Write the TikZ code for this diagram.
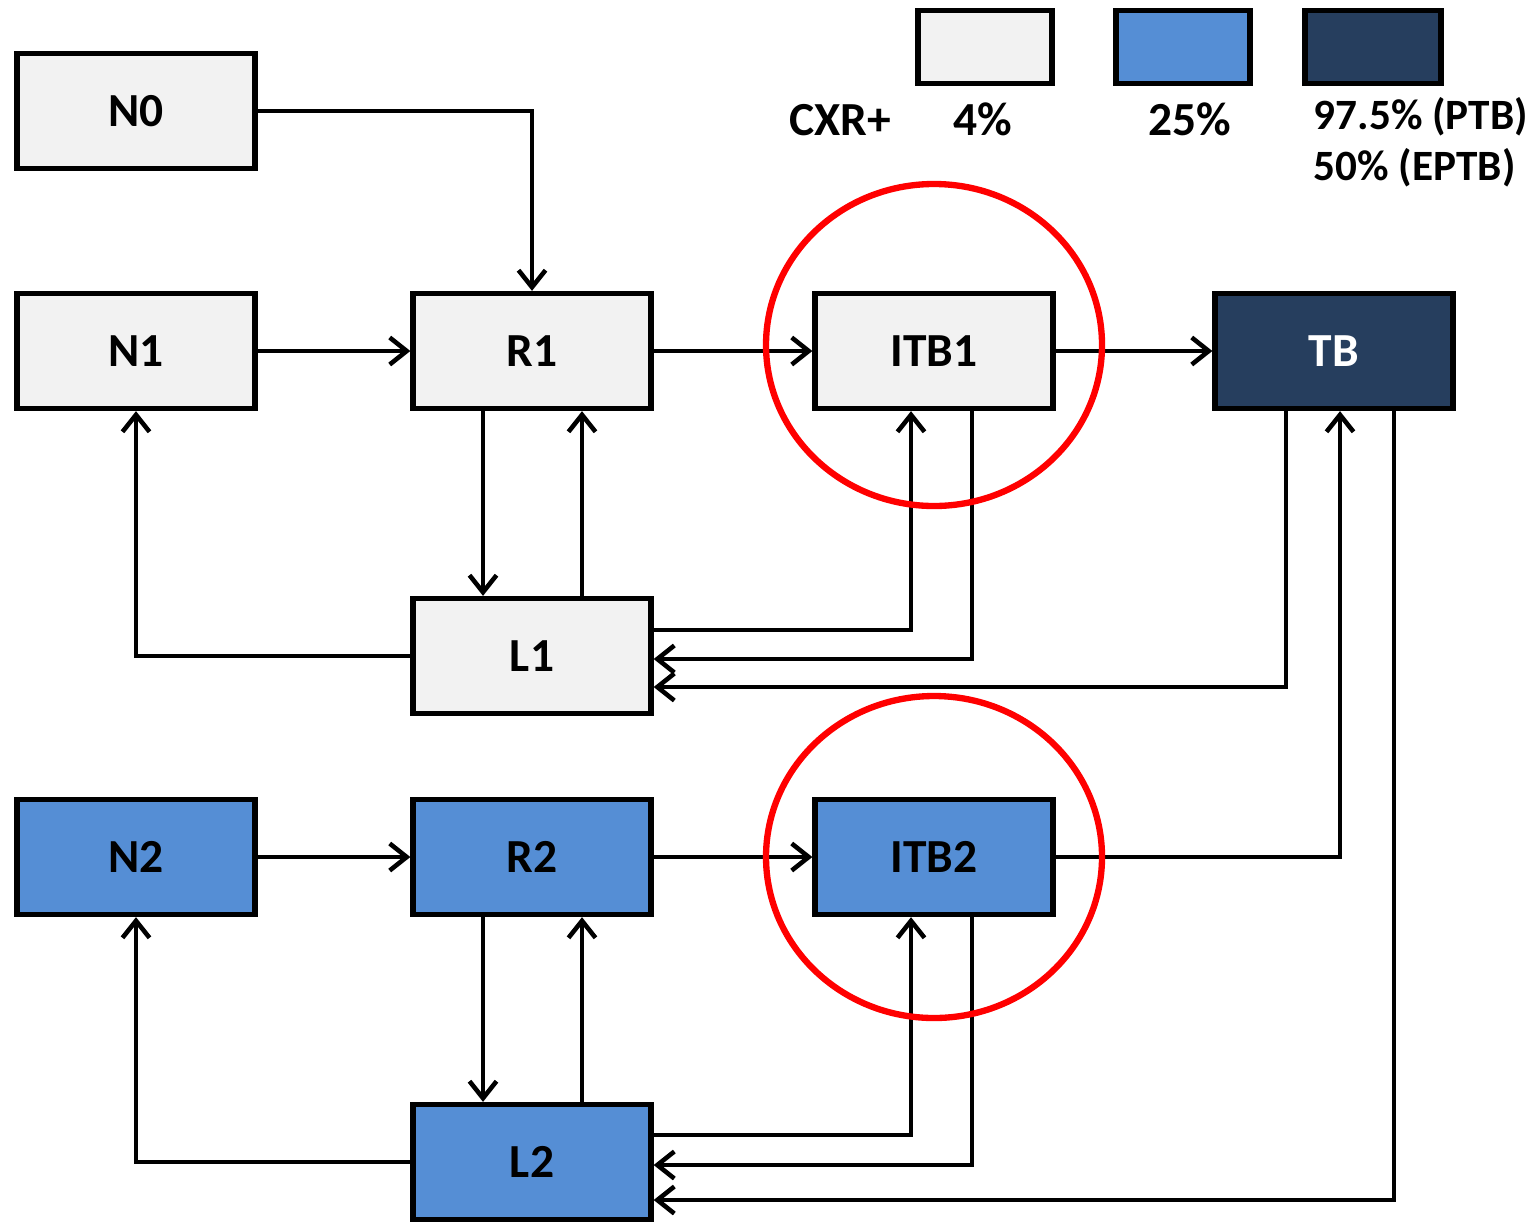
\documentclass[tikz,border=0pt]{standalone}
\usepackage{fontspec}
\setmainfont{Carlito}
\usepackage{xcolor}
\usepackage{tikz}
\usetikzlibrary{arrows.meta, positioning, calc}

\definecolor{stgrey}{HTML}{F2F2F2}
\definecolor{stblue}{HTML}{558ED5}
\definecolor{stnavy}{HTML}{263E5E}

\begin{document}
\begin{tikzpicture}[font=\bfseries\fontsize{13.5}{16}\selectfont,
  box/.style={draw, line width=1.5pt, minimum width=2.38cm, minimum height=1.15cm, inner sep=0pt},
  keybox/.style={draw, line width=1.5pt, minimum width=1.34cm, minimum height=0.73cm, inner sep=0pt},
  arr/.style={line width=1.3pt, -{Straight Barb[length=1.7mm, width=2.7mm, line width=1.3pt]}},
  ring/.style={red, line width=1.8pt}]
  \useasboundingbox (0,0) rectangle (15.37,-12.21);

  % Legend
  \node[keybox, fill=stgrey] (k1) at (9.85,-0.47) {};
  \node[keybox, fill=stblue] (k2) at (11.83,-0.47) {};
  \node[keybox, fill=stnavy, minimum width=1.36cm] (k3) at (13.73,-0.47) {};
  \node (cxr) at (8.40,-1.20) {CXR+};
  \node (p1) at (9.83,-1.19) {4\%};
  \node (p2) at (11.90,-1.19) {25\%};
  \node[anchor=west, inner sep=0pt, font=\bfseries\fontsize{12.3}{15}\selectfont] (p3) at (13.13,-1.17) {97.5\% (PTB)};
  \node[anchor=west, inner sep=0pt, font=\bfseries\fontsize{12.3}{15}\selectfont] (p4) at (13.13,-1.68) {50\% (EPTB)};

  % Row 1 states (grey)
  \node[box, fill=stgrey] (N0) at (1.36,-1.11) {N0};
  \node[box, fill=stgrey] (N1) at (1.36,-3.51) {N1};
  \node[box, fill=stgrey] (R1) at (5.32,-3.51) {R1};
  \node[box, fill=stgrey] (ITB1) at (9.34,-3.51) {ITB1};
  \node[box, fill=stnavy, text=white] (TB) at (13.34,-3.51) {TB};
  \node[box, fill=stgrey] (L1) at (5.32,-6.56) {L1};

  % Row 2 states (blue)
  \node[box, fill=stblue] (N2) at (1.36,-8.57) {N2};
  \node[box, fill=stblue] (R2) at (5.32,-8.57) {R2};
  \node[box, fill=stblue] (ITB2) at (9.34,-8.57) {ITB2};
  \node[box, fill=stblue] (L2) at (5.32,-11.62) {L2};

  % Transitions, row 1
  \draw[arr] (N0.east) -| (R1.north);
  \draw[arr] (N1) -- (R1);
  \draw[arr] (R1) -- (ITB1);
  \draw[arr] (ITB1) -- (TB);
  \draw[arr] ([xshift=-4.9mm]R1.south) -- ([xshift=-4.9mm]L1.north);
  \draw[arr] ([xshift=5mm]L1.north) -- ([xshift=5mm]R1.south);
  \draw[arr] (L1.west) -| (N1.south);
  \draw[arr] ([yshift=2.6mm]L1.east) -| ([xshift=-2.3mm]ITB1.south);
  \draw[arr] ([xshift=3.8mm]ITB1.south) |- ([yshift=-0.3mm]L1.east);
  \draw[arr] ([xshift=-4.8mm]TB.south) |- ([yshift=-3.1mm]L1.east);

  % Transitions, row 2
  \draw[arr] (N2) -- (R2);
  \draw[arr] (R2) -- (ITB2);
  \draw[arr] (ITB2.east) -| ([xshift=0.6mm]TB.south);
  \draw[arr] ([xshift=-4.9mm]R2.south) -- ([xshift=-4.9mm]L2.north);
  \draw[arr] ([xshift=5mm]L2.north) -- ([xshift=5mm]R2.south);
  \draw[arr] (L2.west) -| (N2.south);
  \draw[arr] ([yshift=2.7mm]L2.east) -| ([xshift=-2.3mm]ITB2.south);
  \draw[arr] ([xshift=3.8mm]ITB2.south) |- ([yshift=-0.3mm]L2.east);
  \draw[arr] ([xshift=6mm]TB.south) |- ([yshift=-3.8mm]L2.east);

  % Highlighted states
  \draw[ring] (9.34,-3.45) ellipse (1.68 and 1.61);
  \draw[ring] (9.34,-8.57) ellipse (1.68 and 1.61);
\end{tikzpicture}
\end{document}
